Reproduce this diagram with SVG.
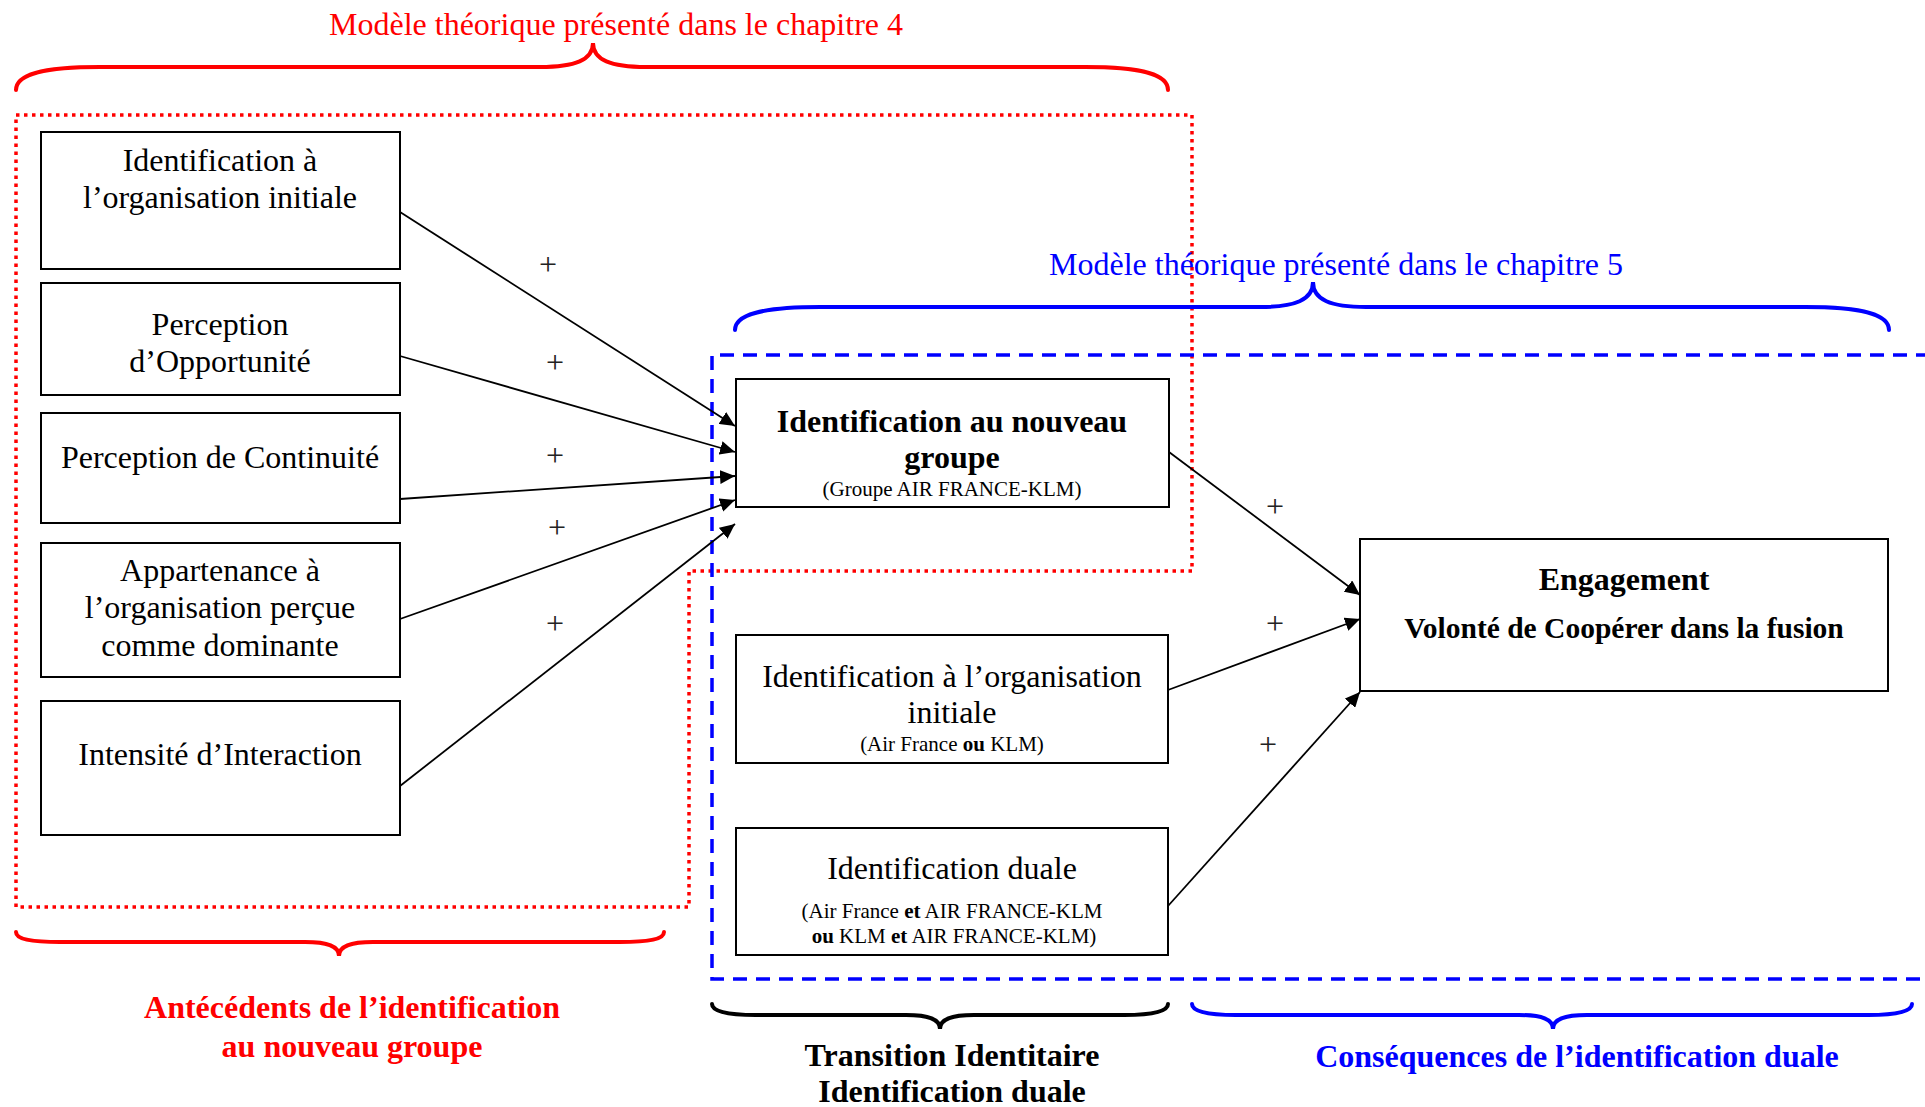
<svg xmlns="http://www.w3.org/2000/svg" width="1925" height="1107" viewBox="0 0 1925 1107">
<style>
text{font-family:"Liberation Serif","Times New Roman",serif;}
.t{font-size:32px;fill:#000;text-anchor:middle;}
.b{font-weight:bold;}
.s{font-size:21px;fill:#000;text-anchor:middle;}
.p{font-size:32px;fill:#222;text-anchor:middle;}
.box{fill:#fff;stroke:#000;stroke-width:2;}
.conn{stroke:#000;stroke-width:1.8;fill:none;marker-end:url(#arr);}
.brace{fill:none;stroke-width:4;stroke-linecap:round;}
</style>
<defs>
<marker id="arr" viewBox="0 0 15 14" refX="15" refY="7" markerWidth="15" markerHeight="14" markerUnits="userSpaceOnUse" orient="auto">
<path d="M0,0 L15,7 L0,14 z" fill="#000"/>
</marker>
</defs>
<rect width="1925" height="1107" fill="#fff"/>

<g id="frames">
<path d="M16,115 H1192 V571 H689 V907 H16 Z" fill="none" stroke="#ff0000" stroke-width="3.5" stroke-dasharray="3.5 4.5"/>
<path d="M1930,355 H712 V979 H1930" fill="none" stroke="#0000ff" stroke-width="3.5" stroke-dasharray="14 9"/>
</g>

<g id="braces">
<path class="brace" stroke="#ff0000" d="M16,90 C16,75 40,67 100,67 L540,67 C575,67 593,60 593,43 C593,60 611,67 646,67 L1085,67 C1145,67 1168,75 1168,90"/>
<path class="brace" stroke="#0000ff" d="M735,330 C735,315 760,307 820,307 L1260,307 C1295,307 1313,300 1313,282 C1313,300 1331,307 1366,307 L1805,307 C1865,307 1889,315 1889,330"/>
<path class="brace" stroke="#ff0000" d="M16,932 C16,939 30,942 60,942 L305,942 C328,942 339,946 339,956 C339,946 350,942 373,942 L620,942 C650,942 664,939 664,932"/>
<path class="brace" stroke="#000000" d="M712,1004 C712,1011 726,1015 756,1015 L906,1015 C929,1015 940,1019 940,1029 C940,1019 951,1015 974,1015 L1124,1015 C1154,1015 1168,1011 1168,1004"/>
<path class="brace" stroke="#0000ff" d="M1192,1004 C1192,1011 1206,1015 1236,1015 L1519,1015 C1542,1015 1553,1019 1553,1029 C1553,1019 1564,1015 1587,1015 L1868,1015 C1898,1015 1912,1011 1912,1004"/>
</g>

<g id="labels">
<text class="t" x="616" y="35" style="fill:#ff0000">Modèle théorique présenté dans le chapitre 4</text>
<text class="t" x="1336" y="275" style="fill:#0000ff">Modèle théorique présenté dans le chapitre 5</text>
<text class="t b" x="352" y="1018" style="fill:#ff0000">Antécédents de l’identification</text>
<text class="t b" x="352" y="1057" style="fill:#ff0000">au nouveau groupe</text>
<text class="t b" x="952" y="1066" style="fill:#000">Transition Identitaire</text>
<text class="t b" x="952" y="1102" style="fill:#000">Identification duale</text>
<text class="t b" x="1577" y="1067" style="fill:#0000ff">Conséquences de l’identification duale</text>
</g>

<g id="connectors">
<line class="conn" x1="400" y1="212" x2="735" y2="426"/>
<line class="conn" x1="400" y1="356" x2="735" y2="452"/>
<line class="conn" x1="400" y1="499" x2="735" y2="476"/>
<line class="conn" x1="400" y1="619" x2="735" y2="500"/>
<line class="conn" x1="400" y1="786" x2="735" y2="524"/>
<line class="conn" x1="1169" y1="452" x2="1360" y2="595"/>
<line class="conn" x1="1168" y1="690" x2="1360" y2="619"/>
<line class="conn" x1="1168" y1="906" x2="1360" y2="692"/>
<text class="p" x="548" y="275">+</text>
<text class="p" x="555" y="373">+</text>
<text class="p" x="555" y="466">+</text>
<text class="p" x="557" y="538">+</text>
<text class="p" x="555" y="634">+</text>
<text class="p" x="1275" y="517">+</text>
<text class="p" x="1275" y="634">+</text>
<text class="p" x="1268" y="755">+</text>
</g>

<g id="n-ident-initiale">
<rect class="box" x="41" y="132" width="359" height="137"/>
<text class="t" x="220" y="171">Identification à</text>
<text class="t" x="220" y="208">l’organisation initiale</text>
</g>
<g id="n-opportunite">
<rect class="box" x="41" y="283" width="359" height="112"/>
<text class="t" x="220" y="335">Perception</text>
<text class="t" x="220" y="372">d’Opportunité</text>
</g>
<g id="n-continuite">
<rect class="box" x="41" y="413" width="359" height="110"/>
<text class="t" x="220" y="468">Perception de Continuité</text>
</g>
<g id="n-appartenance">
<rect class="box" x="41" y="543" width="359" height="134"/>
<text class="t" x="220" y="581">Appartenance à</text>
<text class="t" x="220" y="618">l’organisation perçue</text>
<text class="t" x="220" y="656">comme dominante</text>
</g>
<g id="n-interaction">
<rect class="box" x="41" y="701" width="359" height="134"/>
<text class="t" x="220" y="765">Intensité d’Interaction</text>
</g>

<g id="n-nouveau-groupe">
<rect class="box" x="736" y="379" width="433" height="128"/>
<text class="t b" x="952" y="432">Identification au nouveau</text>
<text class="t b" x="952" y="468">groupe</text>
<text class="s" x="952" y="496">(Groupe AIR FRANCE-KLM)</text>
</g>
<g id="n-org-initiale">
<rect class="box" x="736" y="635" width="432" height="128"/>
<text class="t" x="952" y="687">Identification à l’organisation</text>
<text class="t" x="952" y="723">initiale</text>
<text class="s" x="952" y="751">(Air France <tspan font-weight="bold">ou</tspan> KLM)</text>
</g>
<g id="n-duale">
<rect class="box" x="736" y="828" width="432" height="127"/>
<text class="t" x="952" y="879">Identification duale</text>
<text class="s" x="952" y="918">(Air France <tspan font-weight="bold">et</tspan> AIR FRANCE-KLM</text>
<text class="s" x="954" y="943"><tspan font-weight="bold">ou</tspan> KLM <tspan font-weight="bold">et</tspan> AIR FRANCE-KLM)</text>
</g>
<g id="n-engagement">
<rect class="box" x="1360" y="539" width="528" height="152"/>
<text class="t b" x="1624" y="590">Engagement</text>
<text class="t b" x="1624" y="638" style="font-size:29.5px">Volonté de Coopérer dans la fusion</text>
</g>
</svg>
